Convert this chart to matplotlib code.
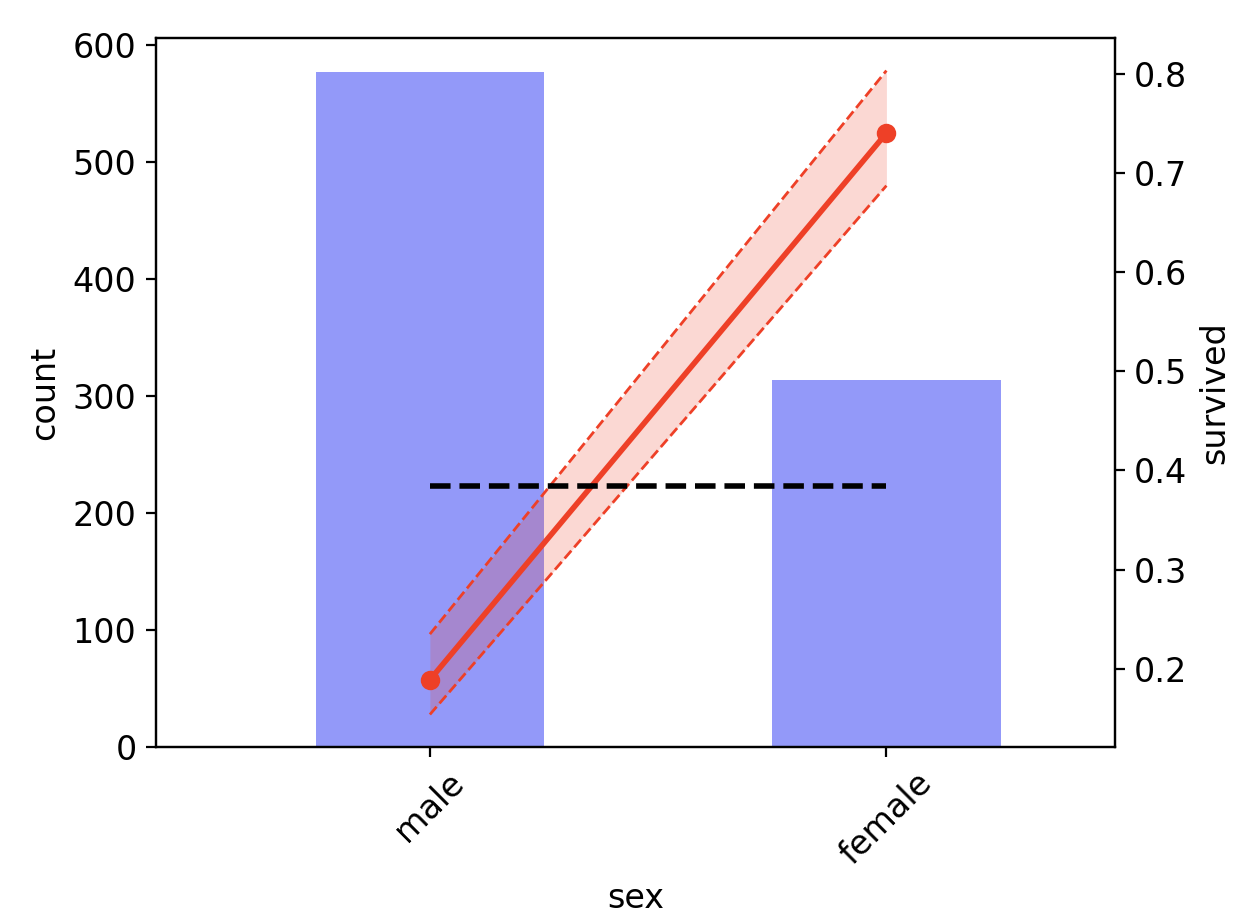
import numpy as np
import matplotlib
matplotlib.use('Agg')
import matplotlib.pyplot as plt

plt.rcParams['font.size'] = 12

# data
sexes = ['male', 'female']
counts = [577, 314]
survived = [0.189, 0.740]
ci_low = [0.154, 0.687]
ci_high = [0.235, 0.803]
overall_rate = 0.3838

bar_color = '#9399f9'
red = '#ee4027'

fig, ax = plt.subplots(figsize=(6.17, 4.59), dpi=200)
fig.subplots_adjust(left=0.1264, right=0.9033, bottom=0.1866, top=0.9582)

x = np.arange(len(sexes))
ax.bar(x, counts, width=0.5, color=bar_color)
ax.set_xlim(-0.6, 1.5)
ax.set_xticks(x)
ax.set_xticklabels(sexes, rotation=45)
ax.set_xlabel('sex')
ax.set_ylabel('count')

# survival rate on second axis, with confidence band
ax2 = ax.twinx()
ax2.fill_between(x, ci_low, ci_high, color=red, alpha=0.2, linewidth=0)
ax2.plot(x, ci_low, color=red, linestyle='--', linewidth=1)
ax2.plot(x, ci_high, color=red, linestyle='--', linewidth=1)
ax2.plot(x, survived, color=red, linewidth=2, marker='o', markersize=6)
ax2.plot(x, [overall_rate] * len(x), color='black', linestyle='--', linewidth=2)
ax2.set_ylabel('survived')

plt.savefig('out.png', dpi=200)
